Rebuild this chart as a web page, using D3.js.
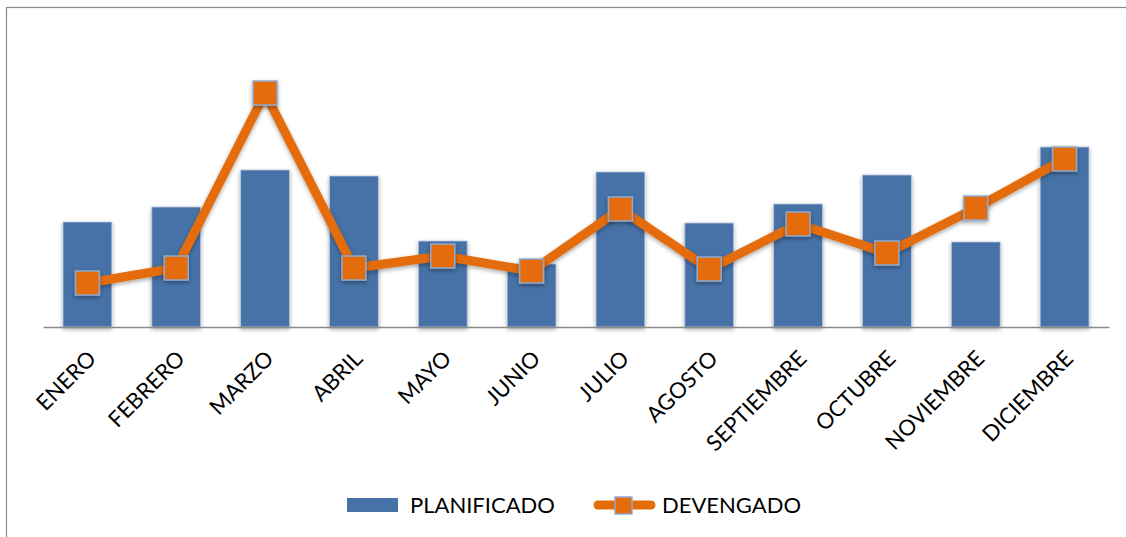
<!DOCTYPE html>
<html>
<head>
<meta charset="utf-8">
<script src="https://cdn.jsdelivr.net/npm/d3@7"></script>
<style>
  body { margin: 0; background: #fff; }
  text { font-family: Lato, 'Open Sans', sans-serif; fill: #000; }
</style>
</head>
<body>
<div id="chart"></div>
<script>
const months = ['ENERO', 'FEBRERO', 'MARZO', 'ABRIL', 'MAYO', 'JUNIO', 'JULIO',
  'AGOSTO', 'SEPTIEMBRE', 'OCTUBRE', 'NOVIEMBRE', 'DICIEMBRE'];
const planificado = [105, 120, 157, 151, 86, 63, 155, 104, 123, 152, 85, 180];
const devengado = [44, 59, 234, 59, 71, 56, 118, 58, 103, 74, 119, 168];
const seriesNames = ['PLANIFICADO', 'DEVENGADO'];

const width = 1126;
const height = 537;
const plot = { left: 43, right: 1109, top: 27, bottom: 327 };

const barColor = '#4672a7';
const lineColor = '#e46c0a';
const markerBorder = '#8eaad0';

const svg = d3
  .select('#chart')
  .append('svg')
  .attr('width', width)
  .attr('height', height);

const defs = svg.append('defs');
const shadow = defs.append('filter').attr('id', 'shadow')
  .attr('x', '-30%').attr('y', '-30%').attr('width', '160%').attr('height', '160%');
shadow.append('feDropShadow')
  .attr('dx', 0).attr('dy', 2).attr('stdDeviation', 2)
  .attr('flood-color', '#000').attr('flood-opacity', 0.35);

// outer frame
svg.append('rect')
  .attr('x', 6.5).attr('y', 7.5)
  .attr('width', 1140).attr('height', 560)
  .attr('fill', 'none').attr('stroke', '#8c8c8c').attr('stroke-width', 1.2);

const xScale = d3.scaleBand()
  .domain(months)
  .range([plot.left, plot.right])
  .paddingInner(0.45)
  .paddingOuter(0.225);

const yScale = d3.scaleLinear()
  .domain([0, 300])
  .range([plot.bottom, plot.top]);

// bars
svg.append('g')
  .selectAll('rect')
  .data(planificado)
  .enter()
  .append('rect')
  .attr('x', (d, i) => xScale(months[i]))
  .attr('y', (d) => yScale(d))
  .attr('width', xScale.bandwidth())
  .attr('height', (d) => yScale(0) - yScale(d))
  .attr('fill', barColor)
  .attr('stroke', '#b8c9e0')
  .attr('stroke-width', 0.8)
  .attr('filter', 'url(#shadow)');

// x axis line
const xAxis = d3.axisBottom(xScale).tickSize(0).tickFormat('');
const axisG = svg.append('g')
  .attr('transform', `translate(0, ${plot.bottom})`)
  .call(xAxis);
axisG.select('.domain').attr('stroke', '#8a8a8a').attr('stroke-width', 1.5);

// rotated labels
svg.append('g')
  .selectAll('text')
  .data(months)
  .enter()
  .append('text')
  .attr('transform', (d) => `translate(${xScale(d) + xScale.bandwidth() / 2 + 10}, 360) rotate(-45)`)
  .attr('text-anchor', 'end')
  .attr('font-size', 22)
  .text((d) => d);

// line
const cx = (i) => xScale(months[i]) + xScale.bandwidth() / 2;
const line = d3.line()
  .x((d, i) => cx(i))
  .y((d) => yScale(d));

svg.append('path')
  .datum(devengado)
  .attr('fill', 'none')
  .attr('stroke', lineColor)
  .attr('stroke-width', 9)
  .attr('stroke-linejoin', 'round')
  .attr('filter', 'url(#shadow)')
  .attr('d', line);

svg.append('g')
  .selectAll('rect')
  .data(devengado)
  .enter()
  .append('rect')
  .attr('x', (d, i) => cx(i) - 12)
  .attr('y', (d) => yScale(d) - 12)
  .attr('width', 24)
  .attr('height', 24)
  .attr('fill', lineColor)
  .attr('stroke', markerBorder)
  .attr('stroke-width', 1.5)
  .attr('filter', 'url(#shadow)');

// legend
const legend = svg.append('g').attr('transform', 'translate(0, 505)');
legend.append('rect')
  .attr('x', 347).attr('y', -7)
  .attr('width', 51).attr('height', 14)
  .attr('fill', barColor);
legend.append('text')
  .attr('x', 410).attr('y', 8)
  .attr('font-size', 22)
  .text(seriesNames[0]);

legend.append('line')
  .attr('x1', 598).attr('x2', 651)
  .attr('y1', 0).attr('y2', 0)
  .attr('stroke', lineColor).attr('stroke-width', 9)
  .attr('stroke-linecap', 'round');
legend.append('rect')
  .attr('x', 615).attr('y', -8)
  .attr('width', 17).attr('height', 17)
  .attr('fill', lineColor)
  .attr('stroke', markerBorder).attr('stroke-width', 1.5);
legend.append('text')
  .attr('x', 662).attr('y', 8)
  .attr('font-size', 22)
  .text(seriesNames[1]);
</script>
</body>
</html>
